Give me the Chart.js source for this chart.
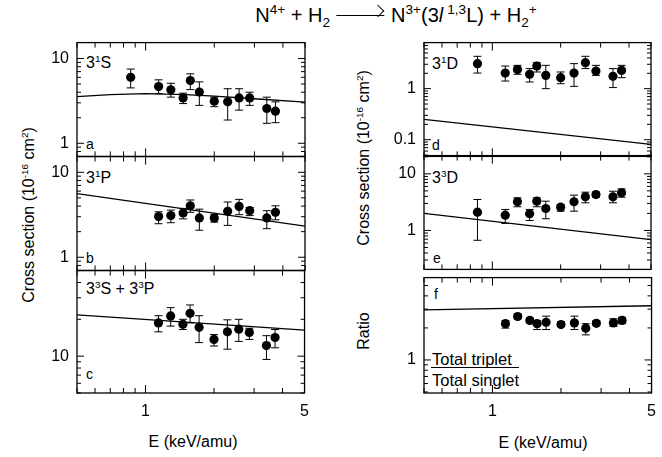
<!DOCTYPE html>
<html>
<head>
<meta charset="utf-8">
<script src="https://cdn.jsdelivr.net/npm/chart.js@4.4.1/dist/chart.umd.min.js"></script>
<style>
  body { margin: 0; width: 662px; height: 457px; position: relative; overflow: hidden;
         background: #fff; color: #000; font-family: 'Liberation Sans', Arial, sans-serif; }
  canvas { position: absolute; }
  .t { position: absolute; white-space: nowrap; line-height: 1; }
  .t sup, .t sub { font-size: 0.62em; line-height: 0; }
  .ttl sup, .ttl sub { font-size: 0.68em; }
  .lbl { font-size: 16px; }
  .let { font-size: 14px; }
  .rot { transform: translate(-50%, -50%) rotate(-90deg); font-size: 16px; }
  .ctr { transform: translate(-50%, -50%); font-size: 16px; }
  .arr { display: inline-block; width: 48px; height: 1px; background: #000;
         vertical-align: middle; position: relative; margin: 0 7px 0 6px; top: -1px; }
  .arr::after { content: ''; position: absolute; right: 0; top: -4px; width: 8px; height: 8px;
                border-top: 1px solid #000; border-right: 1px solid #000;
                transform: rotate(45deg); transform-origin: 100% 0; }
</style>
</head>
<body>

<div class="t ttl" style="left:396px;top:15px;transform:translate(-50%,-50%);font-size:20px;">
  N<sup>4+</sup> + H<sub>2</sub><span class="arr"></span>N<sup>3+</sup>(3<i>l</i>&#8201;<sup>1,3</sup>L) + H<sub>2</sub><sup>+</sup>
</div>

<div class="t lbl" style="left:86px;top:55px;">3<sup>1</sup>S</div>
<div class="t let" style="left:86px;top:137px;">a</div>
<div class="t lbl" style="left:86px;top:170px;">3<sup>1</sup>P</div>
<div class="t let" style="left:86px;top:251px;">b</div>
<div class="t lbl" style="left:86px;top:281px;">3<sup>3</sup>S + 3<sup>3</sup>P</div>
<div class="t let" style="left:86px;top:367px;">c</div>

<div class="t lbl" style="left:432px;top:56px;">3<sup>1</sup>D</div>
<div class="t let" style="left:432px;top:138px;">d</div>
<div class="t lbl" style="left:432px;top:170px;">3<sup>3</sup>D</div>
<div class="t let" style="left:433px;top:251px;">e</div>
<div class="t let" style="left:434px;top:287px;">f</div>
<div class="t" style="left:432px;top:351px;font-size:16.5px;">Total triplet</div>
<div class="t" style="left:431px;top:367px;width:88px;height:1.3px;background:#000;"></div>
<div class="t" style="left:432px;top:372px;font-size:16.5px;">Total singlet</div>

<div class="t rot" style="left:29px;top:215px;">Cross section (10<sup>-16</sup> cm<sup>2</sup>)</div>
<div class="t rot" style="left:364px;top:158px;">Cross section (10<sup>-16</sup> cm<sup>2</sup>)</div>
<div class="t rot" style="left:364px;top:331px;">Ratio</div>
<div class="t ctr" style="left:193px;top:442px;">E (keV/amu)</div>
<div class="t ctr" style="left:543px;top:443px;">E (keV/amu)</div>

<script>
// ── measured energies (keV/amu) ──────────────────────────────
const energy12 = [0.86, 1.14, 1.29, 1.46, 1.57, 1.72, 2.0, 2.29, 2.57, 2.86, 3.4, 3.71];
const energy11 = [1.14, 1.29, 1.46, 1.57, 1.72, 2.0, 2.29, 2.57, 2.86, 3.4, 3.71];

// ── (a) 3 1S ─────────────────────────────────────────────────
const sigS1    = [6.0, 4.67, 4.28, 3.43, 5.49, 4.02, 3.13, 3.08, 3.43, 3.43, 2.57, 2.39];
const sigS1Lo  = [4.5, 3.85, 3.5, 2.94, 4.3, 2.8, 2.7, 1.88, 2.46, 2.8, 1.72, 1.75];
const sigS1Hi  = [7.5, 5.6, 5.1, 3.9, 6.6, 5.3, 3.5, 4.4, 4.4, 4.0, 3.5, 3.08];
// ── (b) 3 1P ─────────────────────────────────────────────────
const sigP1    = [3.01, 3.09, 3.32, 4.03, 2.90, 2.90, 3.47, 3.96, 3.53, 2.90, 3.38];
const sigP1Lo  = [2.48, 2.55, 2.83, 3.38, 2.08, 2.59, 2.37, 3.17, 3.09, 2.17, 2.76];
const sigP1Hi  = [3.43, 3.59, 3.76, 4.72, 3.68, 3.17, 4.47, 4.8, 3.85, 3.53, 4.03];
// ── (c) 3 3S + 3 3P ──────────────────────────────────────────
const sigSP3   = [18.7, 21.3, 18.2, 22.4, 17.2, 13.7, 15.8, 16.6, 15.6, 12.2, 14.2];
const sigSP3Lo = [15.8, 17.6, 16.5, 18.7, 12.9, 12.1, 11.4, 13.2, 13.7, 9.4, 11.7];
const sigSP3Hi = [21.4, 24.9, 20.0, 26.2, 21.4, 15.0, 19.8, 20.0, 16.9, 14.7, 16.5];
// ── (d) 3 1D ─────────────────────────────────────────────────
const sigD1    = [3.09, 2.02, 2.36, 1.91, 2.77, 1.82, 1.64, 2.02, 3.23, 2.21, 1.74, 2.28];
const sigD1Lo  = [2.02, 1.41, 1.91, 1.35, 2.12, 1.0, 1.25, 1.11, 2.47, 1.82, 1.05, 1.64];
const sigD1Hi  = [4.3, 2.77, 2.86, 2.47, 3.23, 2.86, 2.12, 3.09, 4.3, 2.86, 2.47, 2.86];
// ── (e) 3 3D ─────────────────────────────────────────────────
const sigD3    = [2.10, 1.86, 3.21, 1.97, 3.29, 2.44, 2.58, 3.21, 3.93, 4.31, 3.93, 4.62];
const sigD3Lo  = [0.67, 1.33, 2.62, 1.5, 2.62, 1.61, 2.19, 2.19, 3.08, 3.87, 3.08, 3.87];
const sigD3Hi  = [3.52, 2.35, 3.77, 2.35, 3.77, 3.29, 2.87, 4.2, 4.74, 4.74, 4.93, 5.43];
// ── (f) triplet / singlet ratio ──────────────────────────────
const ratio    = [2.19, 2.56, 2.35, 2.19, 2.26, 2.15, 2.23, 1.99, 2.21, 2.23, 2.35];
const ratioLo  = [1.99, 2.44, 2.23, 1.93, 1.93, 2.11, 1.93, 1.72, 2.11, 2.07, 2.19];
const ratioHi  = [2.35, 2.71, 2.47, 2.35, 2.58, 2.28, 2.58, 2.19, 2.35, 2.44, 2.52];

// ── theory curves ────────────────────────────────────────────
const theoryE_a  = [0.5, 0.7, 1, 1.5, 2, 3, 5];
const theoryS1   = [3.55, 3.75, 3.85, 3.75, 3.6, 3.35, 3.05];
const theoryE    = [0.5, 5];
const theoryP1   = [5.6, 2.33];
const theorySP3  = [21.7, 16.3];
const theoryD1   = [0.25, 0.081];
const theoryD3   = [2.0, 0.69];
const theoryRat  = [2.96, 3.23];

// ── axis tick labels ─────────────────────────────────────────
const xTickLabels = [1, 5];
const yTicksA = [10, 1], yTicksB = [10, 1], yTicksC = [10];
const yTicksD = [1, 0.1], yTicksE = [10, 1], yTicksF = [1];

const X_RANGE = [0.5, 5];

const pts = (xs, ys, lo, hi) => xs.map((x, i) => ({ x, y: ys[i], lo: lo[i], hi: hi[i] }));
const line = (xs, ys) => xs.map((x, i) => ({ x, y: ys[i] }));

// log tick positions between min and max (1..9 x 10^k)
function logTicks(min, max) {
    const out = [];
    for (let k = Math.floor(Math.log10(min)) - 1; k <= Math.ceil(Math.log10(max)); k++) {
        for (let m = 1; m <= 9; m++) {
            const v = +(m * Math.pow(10, k)).toPrecision(6);
            if (v >= min * 0.9999 && v <= max * 1.0001) out.push({ v, major: m === 1 });
        }
    }
    return out;
}

// frame, inward ticks on all four sides, error bars
const frameTicks = {
    id: 'frameTicks',
    beforeDatasetsDraw(chart) {
        const ctx = chart.ctx, ys = chart.scales.y;
        const meta = chart.getDatasetMeta(0);
        const data = chart.data.datasets[0].data;
        ctx.save();
        ctx.strokeStyle = '#000';
        ctx.lineWidth = 1;
        meta.data.forEach((el, i) => {
            const x = el.x;
            const yl = ys.getPixelForValue(data[i].lo);
            const yh = ys.getPixelForValue(data[i].hi);
            ctx.beginPath();
            ctx.moveTo(x, yl); ctx.lineTo(x, yh);
            ctx.moveTo(x - 4, yl); ctx.lineTo(x + 4, yl);
            ctx.moveTo(x - 4, yh); ctx.lineTo(x + 4, yh);
            ctx.stroke();
        });
        ctx.restore();
    },
    afterDraw(chart) {
        const ctx = chart.ctx, a = chart.chartArea;
        const xs = chart.scales.x, ys = chart.scales.y;
        ctx.save();
        ctx.strokeStyle = '#000';
        ctx.lineWidth = 1.3;
        ctx.strokeRect(a.left, a.top, a.right - a.left, a.bottom - a.top);
        ctx.lineWidth = 1;
        ctx.beginPath();
        logTicks(xs.min, xs.max).forEach(t => {
            const p = xs.getPixelForValue(t.v), len = t.major ? 8 : 5;
            ctx.moveTo(p, a.bottom); ctx.lineTo(p, a.bottom - len);
            ctx.moveTo(p, a.top);    ctx.lineTo(p, a.top + len);
        });
        logTicks(ys.min, ys.max).forEach(t => {
            const p = ys.getPixelForValue(t.v), len = t.major ? 7 : 4;
            ctx.moveTo(a.left, p);  ctx.lineTo(a.left + len, p);
            ctx.moveTo(a.right, p); ctx.lineTo(a.right - len, p);
        });
        ctx.stroke();
        ctx.restore();
    }
};

const labelFrom = list => v => {
    const hit = list.find(l => Math.abs(l - v) / l < 1e-6);
    return hit === undefined ? '' : String(hit);
};

const tickFont = { family: "'Liberation Sans', Arial, sans-serif", size: 16 };

function buildChart(cv, box, yRange, yLabels, points, curve, bottom) {
    cv.width = box.w; cv.height = box.h;
    cv.style.left = box.l + 'px'; cv.style.top = box.t + 'px';
    return new Chart(cv, {
        type: 'scatter',
        data: {
            datasets: [
                { data: points, order: 0, backgroundColor: '#000', borderColor: '#000',
                  pointRadius: 4.6, pointHoverRadius: 4.6, borderWidth: 0 },
                { data: curve, order: 1, showLine: true, borderColor: '#000', borderWidth: 1.3,
                  pointRadius: 0, tension: 0, fill: false }
            ]
        },
        options: {
            responsive: false,
            animation: false,
            devicePixelRatio: 1,
            layout: { padding: { left: 0, top: 12, right: 12, bottom: 0 } },
            plugins: { legend: { display: false }, tooltip: { enabled: false } },
            scales: {
                x: {
                    type: 'logarithmic', min: X_RANGE[0], max: X_RANGE[1],
                    grid: { display: false, drawTicks: false }, border: { display: false },
                    ticks: { display: bottom, autoSkip: false, maxRotation: 0, padding: 9,
                             color: '#000', font: tickFont, callback: labelFrom(xTickLabels) },
                    afterFit: s => { s.height = bottom ? 32 : 12; }
                },
                y: {
                    type: 'logarithmic', min: yRange[0], max: yRange[1],
                    grid: { display: false, drawTicks: false }, border: { display: false },
                    ticks: { autoSkip: false, padding: 8, color: '#000', font: tickFont,
                             callback: labelFrom(yLabels) },
                    afterFit: s => { s.width = 60; }
                }
            }
        },
        plugins: [frameTicks]
    });
}

// place a panel so that its plot area covers rect [x0, y0, x1, y1] on the page
function makePanel(rect, yRange, yLabels, points, curve, bottom) {
    const [x0, y0, x1, y1] = rect;
    const cv = document.createElement('canvas');
    document.body.appendChild(cv);
    let box = { l: Math.round(x0) - 60, t: Math.round(y0) - 12,
                w: Math.round(x1 - x0) + 72, h: Math.round(y1 - y0) + 44 };
    let chart = buildChart(cv, box, yRange, yLabels, points, curve, bottom);
    for (let i = 0; i < 3; i++) {
        const a = chart.chartArea;
        const l = Math.round(x0 - a.left), t = Math.round(y0 - a.top);
        const w = Math.round(box.w + (x1 - x0) - (a.right - a.left));
        const h = Math.round(box.h + (y1 - y0) - (a.bottom - a.top));
        if (l === box.l && t === box.t && w === box.w && h === box.h) break;
        chart.destroy();
        box = { l, t, w, h };
        chart = buildChart(cv, box, yRange, yLabels, points, curve, bottom);
    }
    return chart;
}

makePanel([76.5, 42.3, 304.5, 156.3], [0.725, 15.4], yTicksA,
          pts(energy12, sigS1, sigS1Lo, sigS1Hi), line(theoryE_a, theoryS1), false);
makePanel([76.5, 156.3, 304.5, 270.5], [0.743, 15.3], yTicksB,
          pts(energy11, sigP1, sigP1Lo, sigP1Hi), line(theoryE, theoryP1), false);
makePanel([76.5, 270.5, 304.5, 393], [5, 50], yTicksC,
          pts(energy11, sigSP3, sigSP3Lo, sigSP3Hi), line(theoryE, theorySP3), true);

makePanel([424.3, 42.3, 651.7, 156], [0.0471, 7.98], yTicksD,
          pts(energy12, sigD1, sigD1Lo, sigD1Hi), line(theoryE, theoryD1), false);
makePanel([424.3, 156, 651.7, 270], [0.205, 21], yTicksE,
          pts(energy12, sigD3, sigD3Lo, sigD3Hi), line(theoryE, theoryD3), false);
makePanel([424.3, 277.3, 651.7, 392.3], [0.489, 5.94], yTicksF,
          pts(energy11, ratio, ratioLo, ratioHi), line(theoryE, theoryRat), true);
</script>
</body>
</html>
